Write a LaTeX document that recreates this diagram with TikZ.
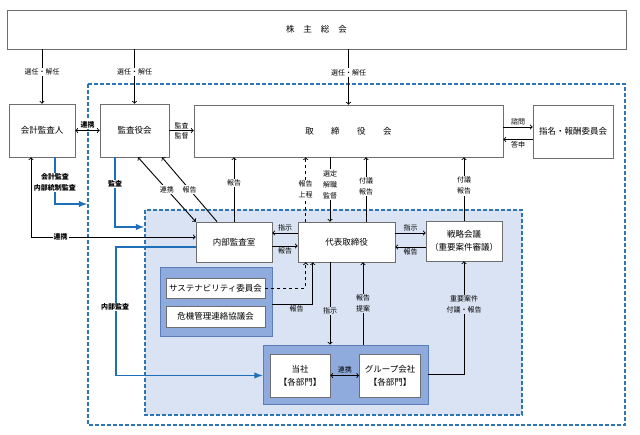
\documentclass[tikz,border=0pt]{standalone}
\usepackage{fontspec}
\setmainfont{Noto Sans CJK JP}
\usepackage{xcolor}
\usetikzlibrary{arrows}
\usetikzlibrary{math}
\definecolor{boxgray}{HTML}{6E6E6E}
\definecolor{dashblue}{HTML}{2E75B6}
\definecolor{lineblue}{HTML}{1F6FB8}
\definecolor{innerfill}{HTML}{DAE3F3}
\definecolor{grpblue}{HTML}{8FAADC}
\definecolor{grpline}{HTML}{5B7DB8}

\begin{document}
\begin{tikzpicture}[x=1pt,y=-1pt,>=to,
  box/.style={draw=boxgray,fill=white,line width=0.6pt,inner sep=0pt,align=center,font=\fontsize{8.5}{13}\selectfont},
  grp/.style={draw=grpline,fill=grpblue,line width=0.8pt,inner sep=0pt},
  arr/.style={->,line width=0.9pt},
  blu/.style={-latex,draw=lineblue,line width=1.8pt},
  frame/.style={draw=dashblue,line width=1.2pt,dash pattern=on 4pt off 2pt},
  lbl/.style={font=\fontsize{7}{11}\selectfont,fill=white,inner sep=1pt,align=center},
  lbli/.style={lbl,fill=innerfill},
  lbln/.style={font=\fontsize{7}{11}\selectfont,inner sep=1.5pt},
  lblb/.style={lbl,font=\fontsize{7}{11}\selectfont\bfseries}]
\useasboundingbox (0,0) rectangle (640,435);
\tikzmath{
\gap=9;
}
\draw[frame] (88,84) rectangle (625,425);
\draw[frame,fill=innerfill] (145,210) rectangle (522,415);

\node[box,minimum width=619,minimum height=39] (kabu) at (316.5,29.5)
  {株\hspace{\gap pt}主\hspace{\gap pt}総\hspace{\gap pt}会};
\node[box,minimum width=66,minimum height=53] (kaikei) at (42,130.5) {会計監査人};
\node[box,minimum width=69,minimum height=53] (kansa) at (134.5,130.5) {監査役会};
\node[box,minimum width=309,minimum height=52] (tori) at (348.5,131)
  {取\hspace{17.5pt}締\hspace{17.5pt}役\hspace{17.5pt}会};
\node[box,minimum width=80,minimum height=53] (shimei) at (573,131.5) {指名・報酬委員会};

\node[box,minimum width=76,minimum height=40] (naibu) at (234,242) {内部監査室};
\node[box,minimum width=97,minimum height=40] (daihyo) at (346.5,242) {代表取締役};
\node[box,minimum width=76,minimum height=40] (senryaku) at (464,241) {戦略会議\\（重要案件審議）};

\node[grp,minimum width=112,minimum height=69] (susgrp) at (216,301.5) {};
\node[box,minimum width=99,minimum height=20] (sus) at (215.5,288) {サステナビリティ委員会};
\node[box,minimum width=99,minimum height=21] (kiki) at (215.5,316.5) {危機管理連絡協議会};

\node[grp,minimum width=165,minimum height=59] (tosgrp) at (345.5,374.5) {};
\node[box,minimum width=60,minimum height=43] (tosha) at (300,375.5) {当社\\【各部門】};
\node[box,minimum width=61,minimum height=43] (group) at (390,375.5) {グループ会社\\【各部門】};

\coordinate (kin) at (87,204);
\coordinate (kan) at (144,227);

\draw[arr] (kabu.south -| kaikei.north) -- node[lbl,pos=0.42]{選任・解任} (kaikei.north);
\draw[arr] (kabu.south -| kansa.north) -- node[lbl,pos=0.42]{選任・解任} (kansa.north);
\draw[arr] (kabu.south -| tori.north) -- node[lbl,pos=0.42]{選任・解任} (tori.north);

\draw[arr,<->] (kaikei.east) -- node[lblb,above=1pt]{連携} (kansa.west);
\draw[arr] (kansa.east) -- node[lbln,above]{監査} node[lbln,below]{監督} (kansa.east -| tori.west);
\draw[arr] ([yshift=4pt]tori.east) -- node[lbln,above]{諮問} ([yshift=4pt]tori.east -| shimei.west);
\draw[arr,<-] ([yshift=-8.5pt]tori.east) -- node[lbln,below]{答申} ([yshift=-8.5pt]tori.east -| shimei.west);

\draw[arr,<->] ([xshift=-11pt]kaikei.south) |- node[lblb,pos=0.59]{連携} ([yshift=5pt]naibu.west);
\draw[blu] ([xshift=13pt]kaikei.south) |- node[lblb,pos=0.27]{会計監査\\内部統制監査} (kin);
\draw[blu] ([xshift=-19.5pt]kansa.south) |- node[lblb,pos=0.19]{監査} (kan);
\draw[blu] ([yshift=-5pt]naibu.west) -| (116,300) |- (tosgrp.west |- tosha.west);
\node[lblb] (naibulbl) at (115,307) {内部監査};

\draw[arr,<->] ([xshift=3.5pt]kansa.south) -- node[lbl]{連携} (naibu.north west);
\draw[arr] ([xshift=-17pt]naibu.north) -- node[lbl]{報告} ([xshift=27.5pt]kansa.south);
\draw[arr] (naibu.north) -- node[lbl,pos=0.6]{報告} (naibu.north |- tori.south);

\draw[arr,dashed] (sus.east) -| ([xshift=8pt]daihyo.south west);
\draw[arr,dashed] ([xshift=8pt]daihyo.north west) -- node[lbl]{報告\\上程} ([xshift=8pt]daihyo.north west |- tori.south);
\draw[arr] ([xshift=-16.5pt]daihyo.north |- tori.south) -- node[lbl,pos=0.42]{選定\\解職\\監督} ([xshift=-16.5pt]daihyo.north);
\draw[arr] ([xshift=19.5pt]daihyo.north) -- node[lbl,pos=0.55]{付議\\報告} ([xshift=19.5pt]daihyo.north |- tori.south);
\draw[arr] (senryaku.north) -- node[lbl,pos=0.55]{付議\\報告} (senryaku.north |- tori.south);

\draw[arr] ([yshift=9pt]daihyo.west) -- node[lbln,above]{指示} ([yshift=9pt]daihyo.west -| naibu.east);
\draw[arr] ([yshift=-4pt]naibu.east) -- node[lbln,below]{報告} ([yshift=-4pt]naibu.east -| daihyo.west);
\draw[arr] ([yshift=9pt]daihyo.east) -- node[lbln,above]{指示} ([yshift=9pt]daihyo.east -| senryaku.west);
\draw[arr,<-] ([yshift=-5pt]daihyo.east) -- node[lbln,below]{報告} ([yshift=-5pt]daihyo.east -| senryaku.west);

\draw[arr] ([yshift=-2.5pt]susgrp.east) -| node[lbln,below,pos=0.3]{報告} ([xshift=15pt]daihyo.south west);
\draw[arr] ([xshift=-16.5pt]daihyo.south) -- node[lbli,pos=0.59]{指示} ([xshift=-16.5pt]daihyo.south |- tosgrp.north);
\draw[arr] ([xshift=16.5pt]daihyo.south |- tosgrp.north) -- node[lbli]{報告\\提案} ([xshift=16.5pt]daihyo.south);
\draw[arr] (tosgrp.east) -| node[lbli,pos=0.81]{重要案件\\付議・報告} (senryaku.south);
\draw[arr,<->] (tosha.east) -- node[lbln,above]{連携} (group.west);

\end{tikzpicture}
\end{document}
